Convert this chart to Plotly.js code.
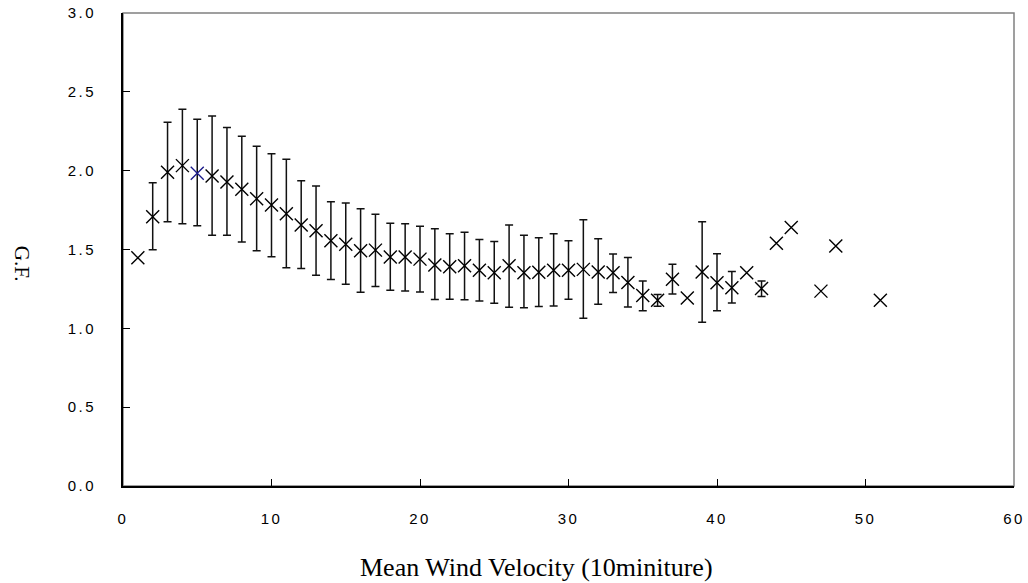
<!DOCTYPE html>
<html>
<head>
<meta charset="utf-8">
<script src="https://cdn.plot.ly/plotly-3.0.1.min.js"></script>
<style>
html,body{margin:0;padding:0;background:#fff;}
#chart{width:1028px;height:583px;}
.xtick text,.ytick text{letter-spacing:2.5px;}
</style>
</head>
<body>
<div id="chart"></div>
<script>
// Mean wind velocity (10-minute) bins
var velocity = [1,2,3,4,5,6,7,8,9,10,11,12,13,14,15,16,17,18,19,20,21,22,23,24,25,26,27,28,29,30,31,32,33,34,35,36,37,38,39,40,41,42,43,44,45,47,48,51];
// Gust factor means
var gustFactor = [1.447,1.708,1.990,2.032,1.983,1.966,1.928,1.882,1.822,1.782,1.727,1.655,1.619,1.555,1.534,1.492,1.496,1.452,1.452,1.439,1.401,1.390,1.397,1.369,1.352,1.397,1.352,1.356,1.369,1.369,1.374,1.358,1.352,1.291,1.208,1.178,1.311,1.193,1.358,1.289,1.257,1.352,1.253,1.539,1.640,1.236,1.522,1.178];
// Upper / lower ends of the error bars (null = no bar)
var upperBound = [null,1.924,2.307,2.390,2.326,2.347,2.273,2.218,2.155,2.108,2.072,1.936,1.903,1.803,1.795,1.759,1.723,1.666,1.663,1.647,1.632,1.600,1.609,1.564,1.551,1.655,1.590,1.575,1.600,1.555,1.689,1.568,1.471,1.449,1.301,1.215,1.406,null,1.676,1.473,1.361,null,1.301,null,null,null,null,null];
var lowerBound = [null,1.498,1.676,1.663,1.650,1.591,1.591,1.547,1.492,1.454,1.384,1.380,1.337,1.310,1.280,1.229,1.266,1.241,1.236,1.231,1.183,1.185,1.181,1.174,1.159,1.134,1.130,1.138,1.142,1.185,1.064,1.153,1.227,1.136,1.111,1.140,1.217,null,1.039,1.111,1.161,null,1.202,null,null,null,null,null];
// Marker colours (one highlighted point)
var markerColors = velocity.map(function(v){ return v === 5 ? '#1a1a8a' : '#000000'; });

var errPlus = gustFactor.map(function(g,i){ return upperBound[i] === null ? NaN : upperBound[i] - g; });
var errMinus = gustFactor.map(function(g,i){ return lowerBound[i] === null ? NaN : g - lowerBound[i]; });

var trace = {
  x: velocity,
  y: gustFactor,
  type: 'scatter',
  mode: 'markers',
  marker: {symbol: 'x-thin-open', size: 13, color: markerColors, line: {width: 1.4, color: markerColors}},
  error_y: {type: 'data', symmetric: false, array: errPlus, arrayminus: errMinus, visible: true, color: '#111', thickness: 1.5, width: 4},
  hoverinfo: 'x+y',
  showlegend: false
};

var tickFont = {family: 'Liberation Sans, Arial, sans-serif', size: 15, color: '#000'};

var layout = {
  width: 1028, height: 583,
  margin: {l: 123, r: 14, t: 13, b: 97},
  paper_bgcolor: '#fff', plot_bgcolor: '#fff',
  showlegend: false,
  xaxis: {
    range: [0, 60], dtick: 10, tick0: 0,
    showgrid: false, zeroline: false,
    showline: true, linecolor: '#000', linewidth: 1.5,
    ticks: 'inside', ticklen: 7, tickwidth: 1, tickcolor: '#000',
    ticklabelstandoff: 18,
    tickfont: tickFont
  },
  yaxis: {
    range: [0, 3], dtick: 0.5, tick0: 0, tickformat: '.1f',
    showgrid: false, zeroline: false,
    showline: true, linecolor: '#000', linewidth: 2,
    ticks: 'inside', ticklen: 7, tickwidth: 1, tickcolor: '#000',
    ticklabelstandoff: 22,
    tickfont: tickFont
  },
  shapes: [{
    type: 'rect', xref: 'paper', yref: 'paper', x0: 0, x1: 1, y0: 0, y1: 1,
    line: {color: '#808080', width: 1.5}, layer: 'below'
  }],
  annotations: [
    {text: 'Mean Wind Velocity (10miniture)', xref: 'paper', yref: 'paper', x: 0.4646, y: -0.173,
     xanchor: 'center', yanchor: 'middle', showarrow: false,
     font: {family: 'Liberation Serif, Times New Roman, serif', size: 26, color: '#000'}},
    {text: 'G.F.', xref: 'paper', yref: 'paper', x: -0.1134, y: 0.47, textangle: 90,
     xanchor: 'center', yanchor: 'middle', showarrow: false,
     font: {family: 'Liberation Serif, Times New Roman, serif', size: 21, color: '#000'}}
  ]
};

Plotly.newPlot('chart', [trace], layout, {displayModeBar: false, staticPlot: true});
</script>
</body>
</html>
